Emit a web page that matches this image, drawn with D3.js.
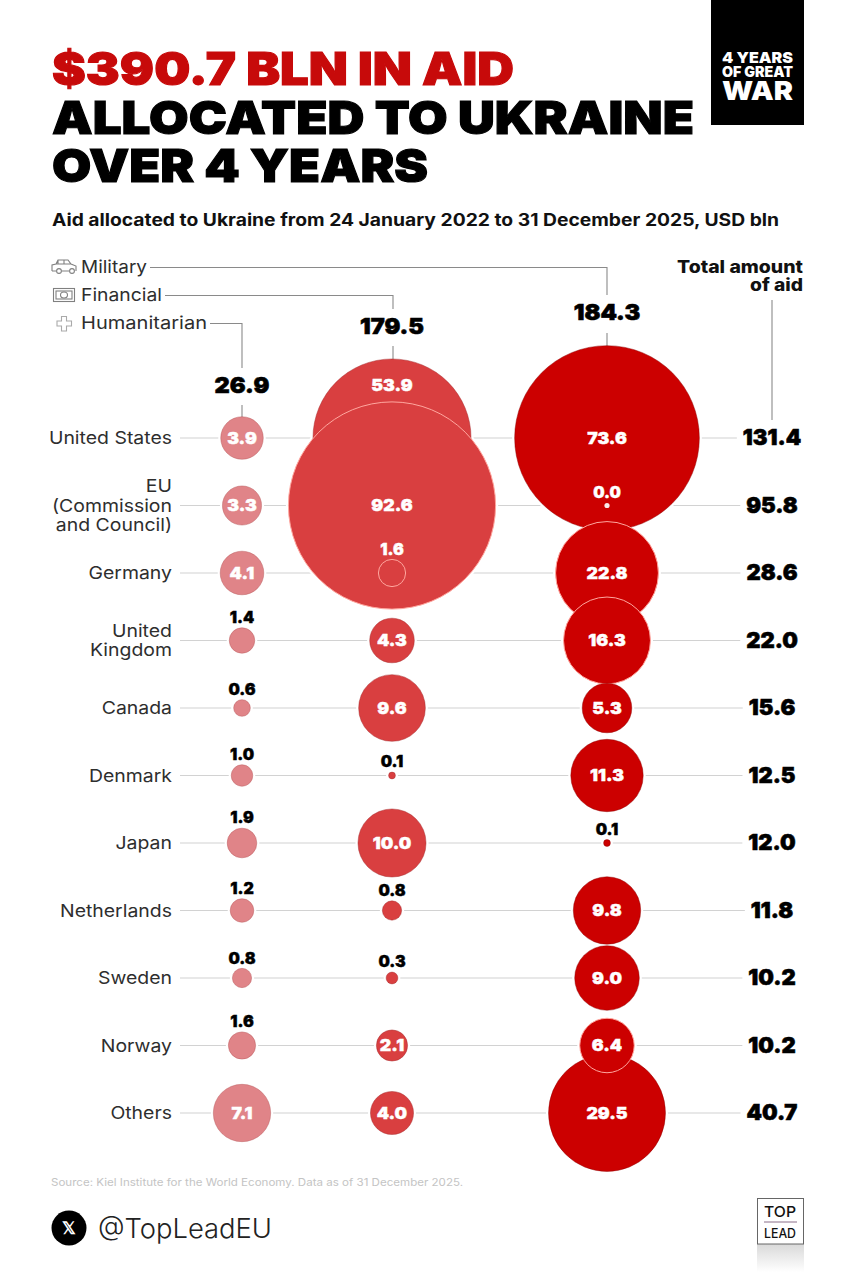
<!DOCTYPE html>
<html>
<head>
<meta charset="utf-8">
<script src="https://cdnjs.cloudflare.com/ajax/libs/d3/7.9.0/d3.min.js"></script>
<style>
html,body{margin:0;padding:0;background:#fff}
svg{display:block}
text{font-family:Inter,"Open Sans",sans-serif}
</style>
</head>
<body>
<svg id="chart" width="855" height="1280"></svg>
<script>
// Aid by donor, USD bln
const countries = ["United States","EU|(Commission|and Council)","Germany","United|Kingdom","Canada","Denmark","Japan","Netherlands","Sweden","Norway","Others"];
const humanitarian = [3.9,3.3,4.1,1.4,0.6,1.0,1.9,1.2,0.8,1.6,7.1];
const financial = [53.9,92.6,1.6,4.3,9.6,0.1,10.0,0.8,0.3,2.1,4.0];
const military = [73.6,0.0,22.8,16.3,5.3,11.3,0.1,9.8,9.0,6.4,29.5];
const totals = [131.4,95.8,28.6,22.0,15.6,12.5,12.0,11.8,10.2,10.2,40.7];
const aidTypes = ["Humanitarian","Financial","Military"];
const typeTotals = [26.9,179.5,184.3];

const svg = d3.select("#chart");
const W = 855, H = 1280;
svg.append("rect").attr("width",W).attr("height",H).attr("fill","#fff");

const y = d3.scalePoint().domain(d3.range(countries.length)).range([438,1113]);
const x = d3.scaleOrdinal().domain(aidTypes).range([242,392,607]);
const r = d3.scaleSqrt().domain([0,92.6]).range([0,103.6]);
const MIN_R = 2.6;
const radius = v => Math.max(r(v), MIN_R);
const TOTAL_X = 772;
const colors = {Humanitarian:"#e08488",Financial:"#d93f40",Military:"#cc0000"};
const rims = {Humanitarian:"#b8585c",Financial:"#a52a2c",Military:"#8e0000"};
const series = {Humanitarian:humanitarian,Financial:financial,Military:military};

// Widens a text to a given width; the display face used by the layout runs wide
function toWidth(sel, w){
  return sel.attr("textLength",w).attr("lengthAdjust","spacingAndGlyphs");
}
function widen(sel, f){
  return toWidth(sel, sel.node().getComputedTextLength()*f);
}
function bold(sel, w, c){
  return sel.attr("stroke",c).attr("stroke-width",w).attr("paint-order","stroke");
}

// Heading
[["$390.7 BLN IN AID",85,"#c70a0a",462],["ALLOCATED TO UKRAINE",134,"#000",642],["OVER 4 YEARS",182,"#000",376]].forEach(([t,by,c,w])=>{
  const s = svg.append("text").attr("x",52).attr("y",by).attr("font-size",46).attr("font-weight",900).attr("fill",c).text(t);
  bold(toWidth(s,w),1.1,c);
});
toWidth(svg.append("text").attr("x",52).attr("y",226).attr("font-size",17).attr("font-weight",650).attr("fill","#111")
  .text("Aid allocated to Ukraine from 24 January 2022 to 31 December 2025, USD bln"),727);

// Series badge, top right
svg.append("rect").attr("x",711).attr("y",0).attr("width",93).attr("height",125).attr("fill","#000");
[["4 YEARS",63,15],["OF GREAT",77,14.5],["WAR",100,26]].forEach(([t,by,fs])=>{
  toWidth(svg.append("text").attr("x",722).attr("y",by).attr("font-size",fs).attr("font-weight",900).attr("fill","#fff").text(t),71);
});

// Row totals come first, since the guides stop just short of them
const totalsG = svg.append("g");
const totalLabels = totals.map((v,i)=>{
  const s = totalsG.append("text").attr("x",TOTAL_X).attr("y",y(i)+7).attr("text-anchor","middle").attr("font-size",22).attr("font-weight",900).attr("fill","#000").text(v.toFixed(1));
  bold(s,0.6,"#000");
  return s;
});

// Horizontal row guides
const lines = svg.append("g").attr("stroke","#d2d2d2").attr("stroke-width",1.2);
countries.forEach((c,i)=>{
  const end = totalLabels[i].node().getBBox().x - 6;
  lines.append("line").attr("x1",180).attr("x2",end).attr("y1",y(i)).attr("y2",y(i));
});

// White gap where guides meet the bubbles
const halos = svg.append("g").attr("fill","#fff");
aidTypes.forEach(type=>{
  series[type].forEach((v,i)=>{
    halos.append("circle").attr("cx",x(type)).attr("cy",y(i)).attr("r",radius(v)+2.5);
  });
});

// Leader lines from the legend to column totals
const leader = svg.append("g").attr("fill","none").attr("stroke","#8a8a8a").attr("stroke-width",1.1);
leader.append("path").attr("d",`M150 267.5H${x("Military")}V295`);
leader.append("path").attr("d",`M${x("Military")} 333V348`);
leader.append("path").attr("d",`M165 295.5H${x("Financial")+1}V309`);
leader.append("path").attr("d",`M${x("Financial")+1} 346V360`);
leader.append("path").attr("d",`M210 323.5H${x("Humanitarian")}V368`);
leader.append("path").attr("d",`M${x("Humanitarian")} 405V418`);
leader.append("path").attr("d",`M772 300V420`);

// Bubbles: rows are painted top-down, with the last row behind Norway
const rowOrder = [10,0,1,2,3,4,5,6,7,8,9];
aidTypes.forEach(type=>{
  const g = svg.append("g");
  rowOrder.forEach(i=>{
    const v = series[type][i];
    const overlapping = (type==="Financial"&&(i===1||i===2))||(type==="Military"&&(i===2||i===3||i===9));
    g.append("circle").attr("cx",x(type)).attr("cy",y(i)).attr("r",radius(v))
      .attr("fill",v===0?"#fbeaea":colors[type])
      .attr("stroke",v===0?"none":overlapping?"#ffa79f":rims[type])
      .attr("stroke-opacity",overlapping?1:0.45)
      .attr("stroke-width",1);
  });
});

// Value labels: very small bubbles carry theirs just above the mark
aidTypes.forEach(type=>{
  const g = svg.append("g").attr("font-weight",900).attr("text-anchor","middle");
  series[type].forEach((v,i)=>{
    const small = v<2;
    const onBubble = (type==="Financial"&&i===2)||(type==="Military"&&i===1);
    let ly = small ? y(i)-radius(v)-4.7 : y(i)+5.7;
    if(type==="Financial" && i===0) ly = y(i)-47;
    const fill = small && !onBubble ? "#000" : "#fff";
    const s = g.append("text").attr("x",x(type)).attr("y",ly).attr("font-size",small?16:16.5).attr("fill",fill).text(v.toFixed(1));
    bold(s,0.4,fill);
    if(!small) widen(s,1.07);
  });
});

// Column totals
const columnTotalY = {Humanitarian:393,Financial:334,Military:320};
aidTypes.forEach((t,i)=>{
  const s = svg.append("text").attr("x",x(t)).attr("y",columnTotalY[t]).attr("text-anchor","middle").attr("font-size",22).attr("font-weight",900).attr("fill","#000").text(typeTotals[i].toFixed(1));
  widen(bold(s,0.6,"#000"),1.07);
});

// Donor names
countries.forEach((c,i)=>{
  const parts = c.split("|");
  const lh = 19.5;
  parts.forEach((p,k)=>{
    widen(svg.append("text").attr("x",172).attr("y",y(i)+6-(parts.length-1)*lh/2+k*lh).attr("text-anchor","end").attr("font-size",17.5).attr("fill","#2e2e2e").text(p),1.11);
  });
});
[["Total amount",273,126],["of aid",291,53]].forEach(([t,by,w])=>{
  toWidth(svg.append("text").attr("x",803).attr("y",by).attr("text-anchor","end").attr("font-size",17).attr("font-weight",800).attr("fill","#111").text(t),w);
});

// Legend
[["Military",273,66],["Financial",301,81],["Humanitarian",329,126]].forEach(([t,by,w])=>{
  toWidth(svg.append("text").attr("x",81).attr("y",by).attr("font-size",17.5).attr("fill","#2e2e2e").text(t),w);
});
const ic = svg.append("g").attr("fill","none").attr("stroke","#808080").attr("stroke-width",1.1);
// jeep
ic.append("path").attr("d","M52 271v-6l4-1 2-4h10l3 4 5 2v5M52 271h4M62 271h7M58 260v4M64 260v4M56 264h15");
ic.append("circle").attr("cx",59).attr("cy",271).attr("r",2.4);
ic.append("circle").attr("cx",72).attr("cy",271).attr("r",2.4);
// banknote
ic.append("rect").attr("x",53.5).attr("y",288.5).attr("width",21).attr("height",13);
ic.append("rect").attr("x",56).attr("y",291).attr("width",16).attr("height",8);
ic.append("ellipse").attr("cx",64).attr("cy",295).attr("rx",3.5).attr("ry",3);
// cross
ic.append("path").attr("d","M61.5 316.5h5v4.5h5v5h-5v5h-5v-5H57v-5h4.5z").attr("stroke","#aaa");

// Footer
toWidth(svg.append("text").attr("x",51).attr("y",1186).attr("font-size",10.5).attr("fill","#c4c4c4").text("Source: Kiel Institute for the World Economy. Data as of 31 December 2025."),412);
svg.append("circle").attr("cx",69).attr("cy",1228).attr("r",17.5).attr("fill","#000");
svg.append("text").attr("x",69).attr("y",1234).attr("text-anchor","middle").attr("font-size",17).attr("font-weight",700).attr("fill","#fff").text("𝕏");
toWidth(svg.append("text").attr("x",98).attr("y",1238).attr("font-size",27).attr("font-weight",300).attr("fill","#222").text("@TopLeadEU"),174);

// Publisher logo with its fading reflection
const defs = svg.append("defs");
const fade = defs.append("linearGradient").attr("id","logoFade").attr("x1",0).attr("x2",0).attr("y1",0).attr("y2",1);
fade.append("stop").attr("offset",0).attr("stop-color","#d9d9d9");
fade.append("stop").attr("offset",1).attr("stop-color","#fff");
svg.append("rect").attr("x",757).attr("y",1244).attr("width",47).attr("height",28).attr("fill","url(#logoFade)");
svg.append("rect").attr("x",757.5).attr("y",1198.5).attr("width",46).attr("height",45.5).attr("fill","#fff").attr("stroke","#666").attr("stroke-width",1);
toWidth(svg.append("text").attr("x",764).attr("y",1217).attr("font-size",15).attr("font-weight",500).attr("fill","#111").text("TOP"),32);
svg.append("line").attr("x1",764).attr("x2",797).attr("y1",1222).attr("y2",1222).attr("stroke","#8a6f8a");
toWidth(svg.append("text").attr("x",764).attr("y",1238).attr("font-size",13.5).attr("font-weight",500).attr("fill","#111").text("LEAD"),32);
</script>
</body>
</html>
